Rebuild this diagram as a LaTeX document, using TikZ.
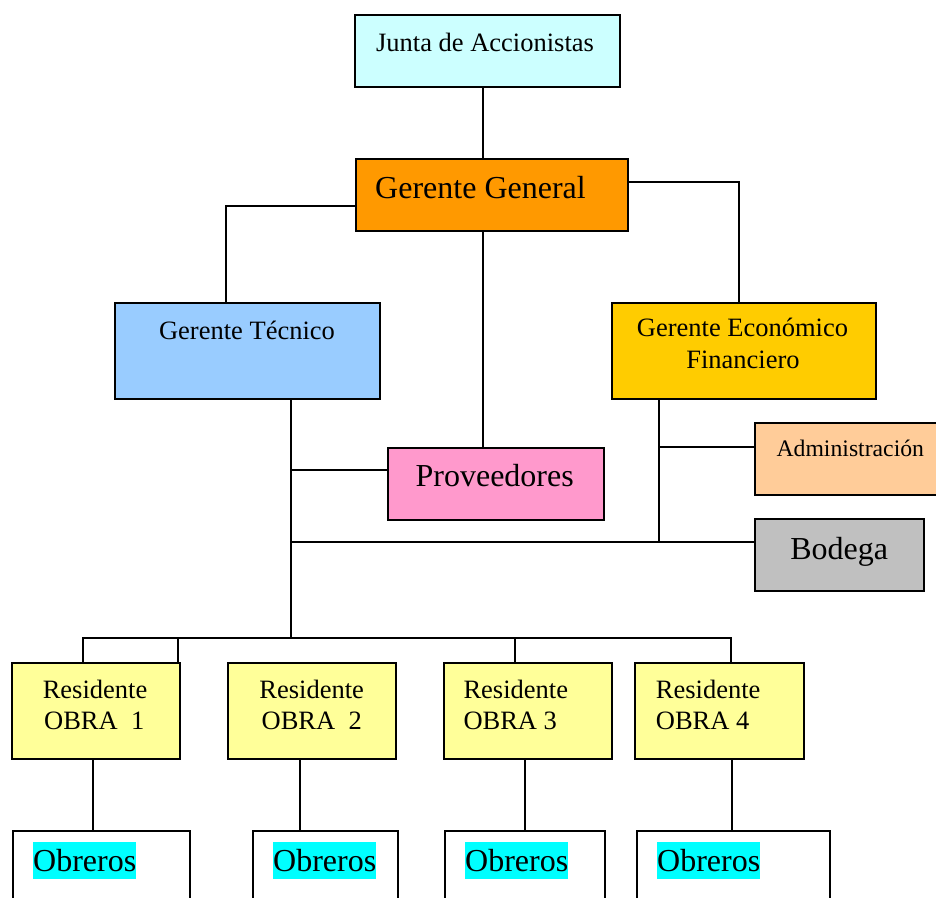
\documentclass[tikz,border=0pt]{standalone}
\usepackage{fontspec}
\setmainfont{Liberation Serif}
\definecolor{cJunta}{HTML}{CCFFFF}
\definecolor{cGeneral}{HTML}{FF9900}
\definecolor{cTecnico}{HTML}{99CCFF}
\definecolor{cEconomico}{HTML}{FFCC00}
\definecolor{cProv}{HTML}{FF99CC}
\definecolor{cAdmin}{HTML}{FFCC99}
\definecolor{cBodega}{HTML}{C0C0C0}
\definecolor{cResid}{HTML}{FFFF99}
\definecolor{cResalte}{HTML}{00FFFF}
\begin{document}
\begin{tikzpicture}[x=1pt,y=-1pt,line join=miter,
	caja/.style={draw,line width=2pt,inner sep=0pt,anchor=north west},
	linea/.style={line width=2pt},
	txt/.style={inner sep=0pt,anchor=base,font=\fontsize{26.5}{31}\selectfont},
	txtG/.style={inner sep=0pt,anchor=base,font=\fontsize{32}{38}\selectfont},
	resalte/.style={txtG,anchor=base west,fill=cResalte,text height=30pt,text depth=7.6pt}]
	\clip (0,0) rectangle (936,897); % hoja
	% cajas
	\path 
	(354,14) node[caja,fill=cJunta,minimum width=265pt,minimum height=72pt] (junta) {}
	(355,158) node[caja,fill=cGeneral,minimum width=272pt,minimum height=72pt] (gg) {}
	(114,302) node[caja,fill=cTecnico,minimum width=265pt,minimum height=96pt] (gt) {}
	(611,302) node[caja,fill=cEconomico,minimum width=264pt,minimum height=96pt] (gef) {}
	(387,447) node[caja,fill=cProv,minimum width=216pt,minimum height=72pt] (prov) {}
	(754,422) node[caja,fill=cAdmin,minimum width=200pt,minimum height=72pt] (adm) {}
	(754,518) node[caja,fill=cBodega,minimum width=169pt,minimum height=72pt] (bod) {}
	(11,662) node[caja,fill=cResid,minimum width=168pt,minimum height=96pt] (r1) {}
	(227,662) node[caja,fill=cResid,minimum width=168pt,minimum height=96pt] (r2) {}
	(443,662) node[caja,fill=cResid,minimum width=168pt,minimum height=96pt] (r3) {}
	(634,662) node[caja,fill=cResid,minimum width=169pt,minimum height=96pt] (r4) {}
	(12,830) node[caja,minimum width=177pt,minimum height=90pt] (o1) {}
	(252,830) node[caja,minimum width=145pt,minimum height=90pt] (o2) {}
	(444,830) node[caja,minimum width=160pt,minimum height=90pt] (o3) {}
	(636,830) node[caja,minimum width=193pt,minimum height=90pt] (o4) {};
	% textos
	\path 
	(485,51) node[txt] (tJunta) {Junta de Accionistas}
	(480.5,198) node[txtG] (tGG) {Gerente General}
	(247,339) node[txt] (tGT) {Gerente Técnico}
	(742.5,336.7) node[txt] (tGE1) {Gerente Económico}
	(743,368) node[txt] (tGE2) {Financiero}
	(494.7,486.7) node[txtG] (tProv) {Proveedores}
	(850.3,456.7) node[txt,font=\fontsize{23.7}{28}\selectfont] (tAdm) {Administración}
	(839.2,559) node[txtG] (tBod) {Bodega}
	(95,698) node[txt] (tR1a) {Residente}
	(94.2,729) node[txt] (tR1b) {OBRA~~1}
	(311.7,698) node[txt] (tR2a) {Residente}
	(311.7,729) node[txt] (tR2b) {OBRA~~2}
	(463.3,698) node[txt,anchor=base west] (tR3a) {Residente}
	(463.3,729) node[txt,anchor=base west] (tR3b) {OBRA 3}
	(655.7,698) node[txt,anchor=base west] (tR4a) {Residente}
	(655.7,729) node[txt,anchor=base west] (tR4b) {OBRA 4}
	(33,871.7) node[resalte] (tO1) {Obreros}
	(273,871.7) node[resalte] (tO2) {Obreros}
	(465,871.7) node[resalte] (tO3) {Obreros}
	(657,871.7) node[resalte] (tO4) {Obreros};
	% puntos de las lineas
	\coordinate (t1) at (291,470);
	\coordinate (t2) at (291,542);
	\coordinate (bus) at (291,638);
	\coordinate (e1) at (659,447);
	% lineas
	\draw[linea] (junta.south -| 483,0)--(gg.north -| 483,0);
	\draw[linea] (gg.west |- 0,206) -| (gt.north -| 226,0);
	\draw[linea] (gg.east |- 0,182) -| (gef.north -| 739,0);
	\draw[linea] (gg.south -| 483,0)--(prov.north -| 483,0);
	\draw[linea] (gt.south -| bus)--(bus);
	\draw[linea] (t1)--(t1 -| prov.west);
	\draw[linea] (t2)--(t2 -| bod.west);
	\draw[linea] (gef.south -| e1)--(e1 |- t2);
	\draw[linea] (e1)--(e1 -| adm.west);
	\draw[linea] (r1.north -| 83,0) |- (bus) -| (r4.north -| 731,0);
	\draw[linea] (r1.north -| 178,0)--(bus -| 178,0);
	\draw[linea] (r3.north -| 515,0)--(bus -| 515,0);
	\draw[linea] (r1.south -| 93,0)--(o1.north -| 93,0);
	\draw[linea] (r2.south -| 300,0)--(o2.north -| 300,0);
	\draw[linea] (r3.south -| 525,0)--(o3.north -| 525,0);
	\draw[linea] (r4.south -| 732,0)--(o4.north -| 732,0);
\end{tikzpicture}
\end{document}
